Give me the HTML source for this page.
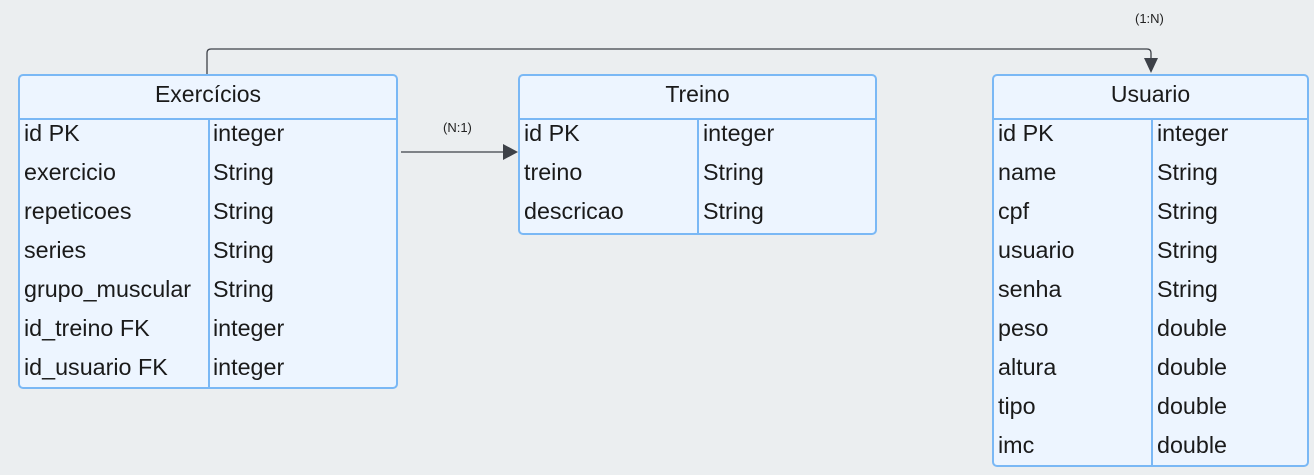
<!DOCTYPE html>
<html><head><style>
body{margin:0;width:1314px;height:475px;background:#ebeef0;position:relative;font-family:"Liberation Sans",sans-serif;overflow:hidden}
.t{position:absolute;background:#edf5ff;border:2px solid #7ab8f5;border-radius:5px;box-sizing:border-box}
.h{height:42px;border-bottom:2px solid #7ab8f5;text-align:center;line-height:37px;font-size:23px;color:#1a1a1a}
.d{position:absolute;top:42px;bottom:0;width:2px;background:#7ab8f5}
.c{position:absolute;font-size:23.3px;color:#1a1a1a;line-height:39px;top:114px;white-space:nowrap}
.l{position:absolute;font-size:13px;color:#222}
</style></head><body>
<svg width="1314" height="475" style="position:absolute;left:0;top:0">
<path d="M207 76 V53 Q207 49 211 49 H1147 Q1151 49 1151 53 V60" fill="none" stroke="#3d4148" stroke-width="1.3"/>
<polygon points="1144,58 1158,58 1151,73" fill="#3d4148"/>
<line x1="401" y1="152" x2="504" y2="152" stroke="#3d4148" stroke-width="1.3"/>
<polygon points="503,144 503,160 518,152" fill="#3d4148"/>
</svg>
<div class="l" style="left:443px;top:120px">(N:1)</div>
<div class="l" style="left:1135px;top:11px">(1:N)</div>

<div class="t" style="left:18px;top:74px;width:380px;height:315px">
<div class="h">Exercícios</div><div class="d" style="left:188px"></div>
</div>
<div class="t" style="left:518px;top:74px;width:359px;height:161px">
<div class="h">Treino</div><div class="d" style="left:177px"></div>
</div>
<div class="t" style="left:992px;top:74px;width:317px;height:393px">
<div class="h">Usuario</div><div class="d" style="left:157px"></div>
</div>

<div class="c" style="left:24px">id PK<br>exercicio<br>repeticoes<br>series<br>grupo_muscular<br>id_treino FK<br>id_usuario FK</div>
<div class="c" style="left:213px">integer<br>String<br>String<br>String<br>String<br>integer<br>integer</div>
<div class="c" style="left:524px">id PK<br>treino<br>descricao</div>
<div class="c" style="left:703px">integer<br>String<br>String</div>
<div class="c" style="left:998px">id PK<br>name<br>cpf<br>usuario<br>senha<br>peso<br>altura<br>tipo<br>imc</div>
<div class="c" style="left:1157px">integer<br>String<br>String<br>String<br>String<br>double<br>double<br>double<br>double</div>
</body></html>
